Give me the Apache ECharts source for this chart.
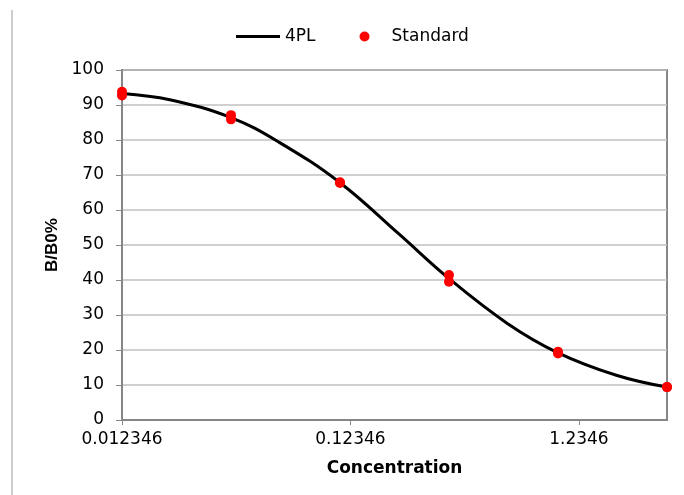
<!DOCTYPE html>
<html>
<head>
<meta charset="utf-8">
<script src="https://cdn.jsdelivr.net/npm/echarts@6/dist/echarts.min.js"></script>
<style>
  html, body { margin: 0; padding: 0; background: #fff; }
  #chart { width: 684px; height: 495px; }
</style>
</head>
<body>
<div id="chart"></div>
<script>
// 4PL 곡선
var curveConc = [0.012346, 0.02, 0.037037, 0.06, 0.11111, 0.2, 0.33333, 0.6, 1, 1.8, 3];
var curveB = [93.3, 91.5, 86.4, 79.4, 67.8, 53.3, 40.4, 27.6, 19.2, 12.8, 9.4];

// 표준 시료 (반복 2회)
var stdConc = [0.012346, 0.012346, 0.037037, 0.037037, 0.11111, 0.11111, 0.33333, 0.33333, 1, 1, 3, 3];
var stdB = [93.8, 92.7, 87.1, 85.9, 67.9, 67.7, 41.4, 39.5, 19.5, 19.0, 9.4, 9.4];

// 축 눈금
var xTickLabels = ['0.012346', '0.12346', '1.2346'];
var xTickValues = xTickLabels.map(Number);
var xMin = 0.012346, xMax = 3;
var yMin = 0, yMax = 100, yStep = 10;

var chart = echarts.init(document.getElementById('chart'));
var font = '"DejaVu Sans", sans-serif';
var axisGray = '#868686';

var option = {
  animation: false,
  textStyle: { fontFamily: font },
  graphic: [{
    type: 'line',
    shape: { x1: 12, y1: 10, x2: 12, y2: 495 },
    style: { stroke: '#9a9a9a', lineWidth: 1 }
  }],
  legend: {
    top: 23,
    left: 231,
    itemGap: 44,
    itemWidth: 44,
    itemHeight: 10,
    symbolKeepAspect: true,
    textStyle: { fontSize: 17, color: '#000', fontFamily: font },
    data: [
      { name: '4PL', icon: 'path://M0,0H44V3H0Z' },
      { name: 'Standard', icon: 'circle' }
    ]
  },
  grid: {
    left: 122, right: 17, top: 70, bottom: 75,
    show: true, borderColor: axisGray, borderWidth: 2
  },
  xAxis: {
    type: 'log',
    logBase: 10,
    min: xMin,
    max: xMax,
    name: 'Concentration',
    nameLocation: 'middle',
    nameGap: 40,
    nameTextStyle: { fontSize: 17, fontWeight: 'bold', color: '#000', fontFamily: font },
    axisLine: { lineStyle: { color: axisGray, width: 2 } },
    axisTick: { show: true, length: 5, customValues: xTickValues, lineStyle: { color: axisGray } },
    axisLabel: {
      customValues: xTickValues,
      fontSize: 17, color: '#000', margin: 11,
      formatter: function (v) {
        var i = xTickValues.indexOf(v);
        return i >= 0 ? xTickLabels[i] : String(v);
      }
    },
    minorTick: { show: false },
    splitLine: { show: false }
  },
  yAxis: {
    type: 'value',
    min: yMin, max: yMax, interval: yStep,
    name: 'B/B0%',
    nameLocation: 'middle',
    nameGap: 61,
    nameTextStyle: { fontSize: 17, fontWeight: 'bold', color: '#000', fontFamily: '"Liberation Sans", Arial, sans-serif' },
    axisLine: { show: true, lineStyle: { color: axisGray, width: 2 } },
    axisTick: { show: true, length: 6, lineStyle: { color: axisGray } },
    axisLabel: { fontSize: 17, color: '#000', margin: 18 },
    splitLine: { show: true, lineStyle: { color: '#c0c0c0', width: 1.5 } }
  },
  series: [
    {
      name: '4PL',
      type: 'line',
      smooth: 0.4,
      symbol: 'none',
      color: '#000',
      lineStyle: { color: '#000', width: 3 },
      data: curveConc.map(function (c, i) { return [c, curveB[i]]; }),
      z: 2
    },
    {
      name: 'Standard',
      type: 'scatter',
      symbol: 'circle',
      symbolSize: 10,
      color: '#ff0000',
      itemStyle: { color: '#ff0000', opacity: 1 },
      clip: false,
      data: stdConc.map(function (c, i) { return [c, stdB[i]]; }),
      z: 3
    }
  ]
};

chart.setOption(option);
</script>
</body>
</html>
